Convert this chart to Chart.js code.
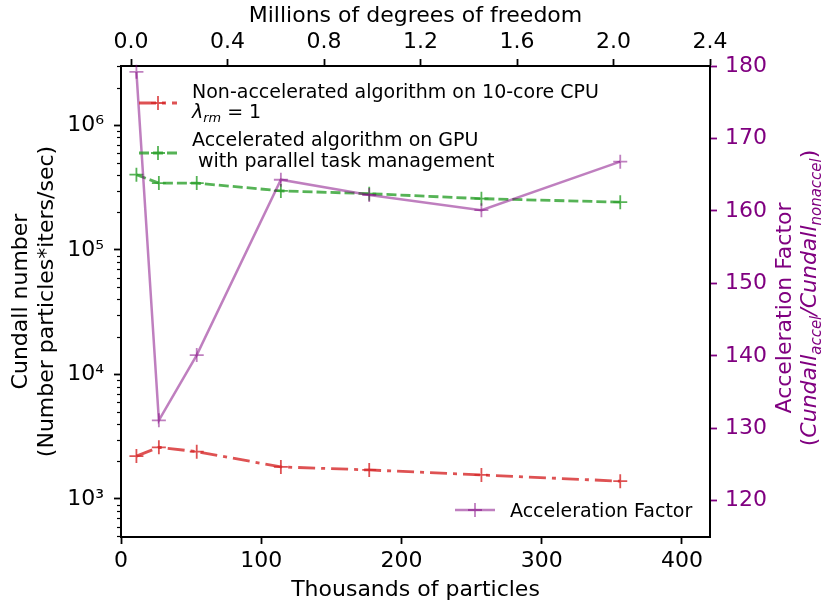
<!DOCTYPE html>
<html>
<head>
<meta charset="utf-8">
<script src="https://cdn.jsdelivr.net/npm/chart.js@4.4.0/dist/chart.umd.min.js"></script>
<style>
  html, body { margin: 0; padding: 0; background: #fff; }
  #wrap { width: 822px; height: 606px; }
</style>
</head>
<body>
<div id="wrap"><canvas id="cundall" width="822" height="606"></canvas></div>
<script>
// particle counts (thousands) and measured throughput
const particlesK = [11, 27, 54, 114, 177, 257, 356];
const cundallNonAccel = [2210, 2600, 2400, 1810, 1710, 1560, 1390];
const cundallAccel = [402000, 344000, 344000, 298000, 283000, 258000, 242000];
const accelFactor = [179.2, 131.1, 140.1, 164.3, 162.2, 160.1, 166.8];

const bottomTicks = [0, 100, 200, 300, 400];
const topTicks = [0.0, 0.4, 0.8, 1.2, 1.6, 2.0, 2.4];
const leftTicks = [1e3, 1e4, 1e5, 1e6];
const rightTicks = [120, 130, 140, 150, 160, 170, 180];

const FONT = 'DejaVu Sans';
const RED = 'rgba(214,39,40,0.8)';
const GREEN = 'rgba(44,160,44,0.8)';
const PURPLE = 'rgba(128,0,128,0.5)';
const AXIS_PURPLE = '#800080';

Chart.defaults.font.family = FONT;
Chart.defaults.font.size = 22;
Chart.defaults.color = '#000';

const SUP = { '0': '⁰', '1': '¹', '2': '²', '3': '³', '4': '⁴', '5': '⁵', '6': '⁶', '7': '⁷', '8': '⁸', '9': '⁹' };
const pow10 = v => '10' + String(Math.round(Math.log10(v))).split('').map(c => SUP[c]).join('');

const points = ys => particlesK.map((x, i) => ({ x, y: ys[i] }));

// text made of runs: plain / italic / subscript
function runFont(r, size) {
  const s = r.sub ? size * 0.68 : size;
  return (r.italic ? 'italic ' : '') + s + 'px ' + FONT;
}

function runsWidth(ctx, runs, size) {
  let w = 0;
  for (const r of runs) {
    ctx.font = runFont(r, size);
    w += ctx.measureText(r.t).width;
  }
  return w;
}

function drawRuns(ctx, runs, x, y, size) {
  for (const r of runs) {
    ctx.font = runFont(r, size);
    ctx.fillText(r.t, x, y + (r.sub ? size * 0.22 : 0));
    x += ctx.measureText(r.t).width;
  }
}

function legendSample(ctx, ds, x0, x1, y) {
  ctx.save();
  ctx.strokeStyle = ds.borderColor;
  ctx.lineWidth = ds.borderWidth;
  ctx.setLineDash(ds.borderDash || []);
  ctx.beginPath();
  ctx.moveTo(x0, y);
  ctx.lineTo(x1, y);
  ctx.stroke();
  ctx.setLineDash([]);
  const xm = (x0 + x1) / 2, r = ds.pointRadius;
  ctx.strokeStyle = ds.pointBorderColor;
  ctx.lineWidth = ds.pointBorderWidth;
  ctx.beginPath();
  ctx.moveTo(xm - r, y); ctx.lineTo(xm + r, y);
  ctx.moveTo(xm, y - r); ctx.lineTo(xm, y + r);
  ctx.stroke();
  ctx.restore();
}

const rightTitle = [
  [{ t: 'Acceleration Factor' }],
  [
    { t: '(' }, { t: 'Cundall', italic: true }, { t: 'accel', italic: true, sub: true },
    { t: '/Cundall', italic: true }, { t: 'nonaccel', italic: true, sub: true }, { t: ')' }
  ]
];

const extras = {
  id: 'extras',
  afterDraw(chart) {
    const ctx = chart.ctx;
    const ys = chart.scales.y;
    const [purple, green, red] = chart.data.datasets;

    // minor ticks on the log axis
    ctx.save();
    ctx.strokeStyle = '#000';
    ctx.lineWidth = 1.2;
    for (let e = 2; e <= 6; e++) {
      for (let m = 2; m <= 9; m++) {
        const v = m * Math.pow(10, e);
        if (v < ys.min || v > ys.max) continue;
        const py = Math.round(ys.getPixelForValue(v)) + 0.5;
        ctx.beginPath();
        ctx.moveTo(ys.right, py);
        ctx.lineTo(ys.right - 4, py);
        ctx.stroke();
      }
    }
    ctx.restore();

    // legend
    ctx.save();
    ctx.fillStyle = '#000';
    ctx.textBaseline = 'alphabetic';
    ctx.textAlign = 'left';
    legendSample(ctx, red, 139, 177, 103);
    drawRuns(ctx, [{ t: 'Non-accelerated algorithm on 10-core CPU' }], 192, 97.5, 19);
    drawRuns(ctx, [{ t: 'λ', italic: true }, { t: 'rm', italic: true, sub: true }, { t: ' = 1' }], 192, 117.5, 19);
    legendSample(ctx, green, 139, 177, 153);
    drawRuns(ctx, [{ t: 'Accelerated algorithm on GPU' }], 192, 146, 19);
    drawRuns(ctx, [{ t: ' with parallel task management' }], 192, 166.5, 19);
    legendSample(ctx, purple, 455, 495, 510);
    drawRuns(ctx, [{ t: 'Acceleration Factor' }], 510, 516.5, 19);
    ctx.restore();

    // right axis title, two rotated lines
    const baselines = [791, 816];
    const centres = [308, 298];
    rightTitle.forEach((runs, i) => {
      ctx.save();
      ctx.fillStyle = AXIS_PURPLE;
      ctx.textBaseline = 'alphabetic';
      ctx.textAlign = 'left';
      const w = runsWidth(ctx, runs, 22);
      ctx.translate(baselines[i], centres[i] + w / 2);
      ctx.rotate(-Math.PI / 2);
      drawRuns(ctx, runs, 0, 0, 22);
      ctx.restore();
    });
  }
};

const tickGrid = color => ({
  drawOnChartArea: false, drawTicks: true, tickLength: 7, tickWidth: 1.8, tickColor: color
});
const frame = { display: true, color: '#000', width: 2 };

new Chart(document.getElementById('cundall'), {
  type: 'line',
  data: {
    datasets: [
      {
        label: 'Acceleration Factor', data: points(accelFactor), xAxisID: 'x', yAxisID: 'y1',
        borderColor: PURPLE, borderWidth: 2.5, pointStyle: 'cross', pointRadius: 7,
        pointBorderColor: PURPLE, pointBorderWidth: 1.8, order: 0, clip: 8
      },
      {
        label: 'Accelerated', data: points(cundallAccel), xAxisID: 'x', yAxisID: 'y',
        borderColor: GREEN, borderWidth: 2.8, borderDash: [10, 4], pointStyle: 'cross', pointRadius: 7,
        pointBorderColor: GREEN, pointBorderWidth: 1.8, order: 1
      },
      {
        label: 'Non-accelerated', data: points(cundallNonAccel), xAxisID: 'x', yAxisID: 'y',
        borderColor: RED, borderWidth: 2.8, borderDash: [17, 6, 4, 6], pointStyle: 'cross', pointRadius: 7,
        pointBorderColor: RED, pointBorderWidth: 1.8, order: 2
      }
    ]
  },
  options: {
    responsive: false,
    animation: false,
    layout: { padding: 0 },
    plugins: { legend: { display: false }, tooltip: { enabled: false } },
    scales: {
      x: {
        type: 'linear', position: 'bottom', min: 0, max: 420,
        afterBuildTicks: s => { s.ticks = bottomTicks.map(value => ({ value })); },
        afterFit: s => { s.height = 69; },
        ticks: { padding: 4, maxRotation: 0, autoSkip: false, color: '#000' },
        grid: tickGrid('#000'), border: frame,
        title: { display: true, text: 'Thousands of particles', color: '#000', padding: { top: 0, bottom: 3 } }
      },
      x2: {
        type: 'linear', position: 'top', min: -0.0415, max: 2.4,
        afterBuildTicks: s => { s.ticks = topTicks.map(value => ({ value })); },
        afterFit: s => { s.height = 66; },
        ticks: { padding: 4, maxRotation: 0, autoSkip: false, color: '#000', callback: v => v.toFixed(1) },
        grid: tickGrid('#000'), border: frame,
        title: { display: true, text: 'Millions of degrees of freedom', color: '#000', padding: { top: 3, bottom: 0 } }
      },
      y: {
        type: 'logarithmic', position: 'left', min: 495, max: 3.0e6,
        afterBuildTicks: s => { s.ticks = leftTicks.map(value => ({ value })); },
        afterFit: s => { s.width = 121; },
        ticks: { padding: 10, autoSkip: false, color: '#000', callback: v => pow10(v) },
        grid: tickGrid('#000'), border: frame,
        title: {
          display: true, text: ['Cundall number', '(Number particles*iters/sec)'], color: '#000',
          font: { size: 22, lineHeight: 1.15 }, padding: { top: 9, bottom: 0 }
        }
      },
      y1: {
        type: 'linear', position: 'right', min: 115, max: 180,
        afterBuildTicks: s => { s.ticks = rightTicks.map(value => ({ value })); },
        afterFit: s => { s.width = 112; },
        ticks: { padding: 8, autoSkip: false, color: AXIS_PURPLE },
        grid: tickGrid(AXIS_PURPLE), border: frame
      }
    }
  },
  plugins: [extras]
});
</script>
</body>
</html>
